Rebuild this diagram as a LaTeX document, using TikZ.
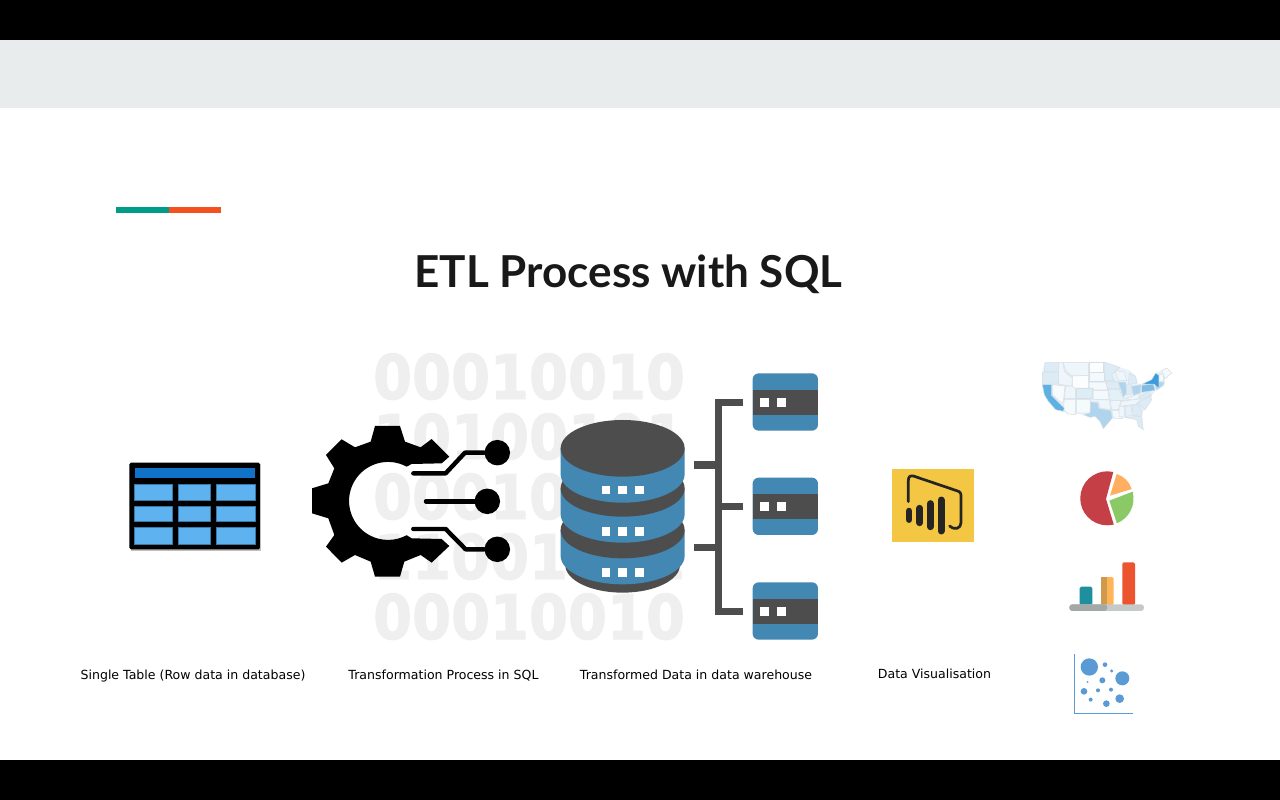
\documentclass[tikz,border=0pt]{standalone}
\usepackage{fontspec}
\setmainfont{DejaVu Sans}
\newfontfamily\titlefont{Lato}
\newfontfamily\digitfont[BoldFeatures={FakeBold=1.6}]{DejaVu Sans}
\definecolor{dbblue}{HTML}{4387B3}
\definecolor{dbdark}{HTML}{4D4D4D}
\definecolor{digitgray}{HTML}{EFEFEF}
\definecolor{bandgray}{HTML}{E9ECEC}
\definecolor{accteal}{HTML}{009C8A}
\definecolor{accorange}{HTML}{F4511E}
\definecolor{cellblue}{HTML}{5FB2F0}
\definecolor{celledge}{HTML}{3A78A8}
\definecolor{headblue}{HTML}{1173C8}
\definecolor{biyellow}{HTML}{F3C744}
\definecolor{biblack}{HTML}{252423}
\definecolor{scblue}{HTML}{5B9BD5}
\definecolor{stateedge}{HTML}{D6DFE4}
\definecolor{mapbase}{HTML}{E8F2F9}
\newcommand{\mapstate}[2]{\definecolor{statefill}{HTML}{#1}\path[state,fill=statefill] #2 -- cycle;}
\tikzset{
  caption/.style={inner sep=0pt,anchor=base,font=\fontsize{12.55}{15}\selectfont,text=black},
  digitrow/.style={inner sep=0pt,anchor=base,text=digitgray,font=\digitfont\fontsize{56}{56}\selectfont\bfseries},
  circuit/.style={draw=black,line width=4.4pt,line cap=round,line join=round},
  dot/.style={circle,fill=black,minimum size=25.5pt,inner sep=0pt},
  busline/.style={draw=dbdark,line width=7.2pt},
  cell/.style={fill=cellblue,draw=celledge,line width=.4pt},
  state/.style={draw=stateedge,line width=.5pt,line join=round},
  bubble/.style={fill=scblue},
  whitesq/.style={fill=white},
  bibar/.style={draw=biblack,line width=7pt,line cap=round},
}
\begin{document}
\begin{tikzpicture}[x=1pt,y=-1pt]
\useasboundingbox (0,0) rectangle (1280,800);
\fill[white] (0,0) rectangle (1280,800);
\fill[black] (0,0) rectangle (1280,40);
\fill[black] (0,760) rectangle (1280,800);
\fill[bandgray] (0,40) rectangle (1280,108);
\fill[accteal] (116,207) rectangle (169,213);
\fill[accorange] (169,207) rectangle (221,213);
\node[inner sep=0pt,anchor=base,text=black!90] (title) at (628.5,287) {\titlefont\fontsize{44}{48}\selectfont\bfseries ETL Process with SQL};

% background digits
\node[digitrow] (d1) at (529,399) {\scalebox{1}[1.1]{00010010}};
\node[digitrow] (d2) at (529,459) {\scalebox{1}[1.1]{10100101}};
\node[digitrow] (d3) at (529,519) {\scalebox{1}[1.1]{00010010}};
\node[digitrow] (d4) at (529,579) {\scalebox{1}[1.1]{11001101}};
\node[digitrow] (d5) at (529,639) {\scalebox{1}[1.1]{00010010}};

% table icon
\begin{scope}[shift={(120pt,-450pt)},x=.3333pt,y=-.3333pt]
  \fill[black!25] (34,42) rectangle (424,302);
  \fill[black,rounded corners=1.5pt] (28,38) rectangle (420,298);
  \fill[headblue] (44,53) rectangle (405,85);
  \foreach \ya/\yb in {102/150,168/215,233/282}{
    \foreach \xa/\xb in {44/158,176/272,290/405}{
      \path[cell] (\xa,\ya) rectangle (\xb,\yb);
    }
  }
\end{scope}

% gear icon
\begin{scope}[shift={(300pt,-340pt)},x=.3333pt,y=-.3333pt]
  \fill[black,line join=round] (225,258) -- (300,258) -- (315,305) -- (362,322) -- (395,297)
    -- (448,350) -- (425,370) -- (335,372) -- (320,380)
    arc[start angle=-61.5,end angle=-298.5,radius=117]
    -- (335,595) -- (425,597) -- (448,618) -- (395,668) -- (362,645) -- (313,665) -- (300,710)
    -- (225,710) -- (212,665) -- (165,645) -- (125,668) -- (78,620) -- (103,585) -- (85,535)
    -- (36,520) -- (36,445) -- (85,430) -- (103,385) -- (78,345) -- (125,298) -- (165,322)
    -- (212,305) -- cycle;
  \node[dot] (dota) at (592,338) {};
  \node[dot] (dotb) at (562,484) {};
  \node[dot] (dotc) at (592,628) {};
  \coordinate (ca) at (340,400);
  \coordinate (cb) at (378,484);
  \coordinate (cc) at (340,567);
  \path[circuit] (ca) -- (437,400) -- (495,338) -- (dota);
  \path[circuit] (cb) -- (dotb);
  \path[circuit] (cc) -- (437,567) -- (497,628) -- (dotc);

  % database
  \fill[dbdark] (968,675) ellipse[x radius=172,y radius=83];
  \foreach \t in {570,445,325}{
    \fill[dbblue] (782,\t) -- (782,\t+78) arc[start angle=180,end angle=0,x radius=186,y radius=85]
      -- (1154,\t) -- cycle;
    \fill[dbdark] (968,\t) ellipse[x radius=186,y radius=85];
  }
  \foreach \y in {450,574,698}{
    \foreach \x in {918,968,1018}{
      \fill[whitesq] (\x-13,\y-13) rectangle (\x+13,\y+13);
    }
  }
\end{scope}

% servers and bus
\begin{scope}[shift={(680pt,-365pt)},x=.3333pt,y=-.3333pt]
  \foreach \t/\n in {25/1,338/2,652/3}{
    \fill[dbblue,rounded corners=6pt] (218,\t) rectangle ++(196,172);
    \fill[dbdark] (218,\t+50) rectangle ++(196,74);
    \fill[whitesq] (241,\t+74) rectangle ++(26,26);
    \fill[whitesq] (292,\t+74) rectangle ++(26,26);
  }
  \coordinate (srv1) at (188,112);
  \coordinate (srv2) at (188,425);
  \coordinate (srv3) at (188,739);
  \coordinate (bus1) at (116,112);
  \coordinate (bus2) at (116,425);
  \coordinate (bus3) at (116,739);
  \coordinate (up) at (42,300);
  \coordinate (lo) at (42,548);
  \path[busline] (srv1) -- (bus1) -- (bus3) -- (srv3);
  \path[busline] (srv2) -- (bus2);
  \path[busline] (up) -- (116,300);
  \path[busline] (lo) -- (116,548);
\end{scope}

% Power BI icon
\begin{scope}[shift={(880pt,-460pt)},x=.3333pt,y=-.3333pt]
  \fill[biyellow] (35,28) rectangle (282,245);
  \path[bibar,line width=6.6pt] (87,153) -- (87,179);
  \path[bibar] (119,145) -- (119,188);
  \path[bibar] (151,131) -- (151,200);
  \path[bibar] (183,120) -- (183,213);
  \draw[biblack,line width=2.7pt,line cap=round,line join=round]
    (85,125) -- (85,62) .. controls (85,50) and (90,46) .. (100,48)
    -- (230,92) .. controls (240,95) and (243,98) .. (243,108)
    -- (243,188) .. controls (243,205) and (225,212) .. (209,198);
\end{scope}

% US map
\begin{scope}[shift={(1035pt,-358pt)},x=.3333pt,y=-.3333pt]
  \fill[mapbase] (22,42) -- (30,14) -- (205,14) -- (207,12) -- (255,28) -- (285,38) -- (302,55) -- (310,78)
    -- (322,78) -- (350,65) -- (362,45) -- (380,38) -- (395,30) -- (410,45) -- (390,62) -- (388,82)
    -- (365,96) -- (350,112) -- (350,125) -- (330,155) -- (322,160) -- (325,215) -- (310,205) -- (305,185)
    -- (270,178) -- (235,182) -- (232,180) -- (205,212) -- (195,190) -- (180,175) -- (165,178) -- (145,170)
    -- (125,167) -- (100,168) -- (85,160) -- (62,155) -- (40,130) -- (28,110) -- (22,80) -- cycle;
  \mapstate{DCEBF5}{(30,14) -- (72,14) -- (72,42) -- (28,40)}
  \mapstate{DDEBF5}{(22,42) -- (72,42) -- (68,78) -- (22,78)}
  \mapstate{F7FBFE}{(52,80) -- (90,84) -- (85,130) -- (80,135) -- (52,110)}
  \mapstate{EEF6FB}{(72,14) -- (84,14) -- (88,40) -- (112,60) -- (110,85) -- (70,78)}
  \mapstate{EEF6FB}{(84,14) -- (160,14) -- (160,52) -- (112,54) -- (95,42)}
  \mapstate{FBFDFE}{(112,54) -- (160,52) -- (160,90) -- (112,90)}
  \mapstate{EEF6FB}{(92,84) -- (110,84) -- (122,92) -- (122,122) -- (88,122)}
  \mapstate{DCEDF7}{(124,92) -- (172,92) -- (172,122) -- (124,122)}
  \mapstate{F5FAFD}{(88,124) -- (122,124) -- (122,170) -- (100,168) -- (85,155)}
  \mapstate{F5FAFD}{(124,124) -- (165,124) -- (165,165) -- (125,165)}
  \mapstate{FBFDFE}{(162,14) -- (205,14) -- (205,42) -- (162,42)}
  \mapstate{F3F9FC}{(162,44) -- (208,44) -- (208,70) -- (162,70)}
  \mapstate{F3F9FC}{(162,72) -- (212,72) -- (218,96) -- (174,96) -- (174,90) -- (162,90)}
  \mapstate{F3F9FC}{(174,98) -- (220,98) -- (222,124) -- (174,124)}
  \mapstate{EEF6FB}{(167,126) -- (224,126) -- (226,155) -- (195,150) -- (190,132) -- (167,132)}
  \mapstate{AFD5EE}{(167,132) -- (188,134) -- (192,152) -- (228,158) -- (232,180) -- (205,212) -- (195,190) -- (180,175) -- (165,178) -- (145,170) -- (165,165)}
  \mapstate{DCEBF5}{(207,12) -- (255,28) -- (230,50) -- (238,68) -- (210,68)}
  \mapstate{DCEBF5}{(212,70) -- (248,70) -- (255,92) -- (218,92)}
  \mapstate{E4F0F8}{(220,94) -- (252,94) -- (268,128) -- (226,126)}
  \mapstate{EEF6FB}{(226,128) -- (258,128) -- (250,155) -- (230,155)}
  \mapstate{F3F9FC}{(230,157) -- (250,157) -- (262,182) -- (235,180)}
  \mapstate{EEF6FB}{(240,38) -- (268,42) -- (275,68) -- (250,68)}
  \mapstate{AFD5EE}{(250,72) -- (272,72) -- (275,105) -- (265,118)}
  \mapstate{DCEBF5}{(282,45) -- (302,55) -- (305,75) -- (280,80) -- (282,55)}
  \mapstate{DCEBF5}{(275,78) -- (290,78) -- (290,108) -- (275,110)}
  \mapstate{AFD5EE}{(290,85) -- (318,80) -- (316,105) -- (295,112)}
  \mapstate{EEF6FB}{(270,122) -- (310,108) -- (318,115) -- (300,128)}
  \mapstate{EEF6FB}{(258,130) -- (320,122) -- (305,138) -- (255,145)}
  \mapstate{EEF6FB}{(252,145) -- (268,145) -- (268,178) -- (252,175)}
  \mapstate{E4F0F8}{(270,145) -- (288,143) -- (292,172) -- (272,175)}
  \mapstate{DCEBF5}{(290,142) -- (308,140) -- (322,160) -- (318,175) -- (295,172)}
  \mapstate{DCEBF5}{(270,178) -- (318,175) -- (325,215) -- (310,205) -- (305,185)}
  \mapstate{DCEBF5}{(305,135) -- (345,115) -- (350,125) -- (330,155)}
  \mapstate{DCEBF5}{(310,118) -- (340,100) -- (350,112) -- (320,122)}
  \mapstate{7EBDE6}{(320,82) -- (355,78) -- (360,97) -- (320,103)}
  \mapstate{AFD5EE}{(360,85) -- (372,72) -- (388,72) -- (385,82) -- (365,96)}
  \mapstate{F3F9FC}{(372,50) -- (385,48) -- (385,70) -- (372,70)}
  \mapstate{F3F9FC}{(380,38) -- (395,30) -- (410,45) -- (390,62)}
  \mapstate{5DB1E3}{(22,80) -- (50,80) -- (50,112) -- (88,150) -- (85,160) -- (62,155) -- (40,130) -- (28,110)}
  \mapstate{3C9BDC}{(322,78) -- (350,65) -- (362,45) -- (372,52) -- (372,92) -- (357,78)}
\end{scope}

% pie chart
\begin{scope}[shift={(1030pt,-350pt)},x=.3333pt,y=-.3333pt]
  \fill[fill={rgb,255:red,197;green,63;blue,70}] (228,447) -- (250,366)
    arc[start angle=-77,end angle=-284,radius=81] -- cycle;
  \fill[fill={rgb,255:red,139;green,201;blue,102}] (238,452) -- (308,425)
    arc[start angle=-15,end angle=68,radius=80] -- cycle;
  \fill[fill={rgb,255:red,255;green,175;blue,95}] (240,437) -- (260,372)
    arc[start angle=-73,end angle=-17,radius=68] -- cycle;
\end{scope}

% bar chart and scatter chart
\begin{scope}[shift={(1050pt,-550pt)},x=.3333pt,y=-.3333pt]
  \fill[fill={rgb,255:red,31;green,143;blue,158},rounded corners=1.5pt] (89,165) -- (89,110) -- (127,110) -- (127,165) -- cycle;
  \fill[fill={rgb,255:red,255;green,180;blue,87},rounded corners=1.5pt] (153,165) -- (153,81) -- (191,81) -- (191,165) -- cycle;
  \fill[fill={rgb,255:red,208;green,154;blue,78}] (154,165) -- (154,82) -- (172,82) -- (172,165) -- cycle;
  \fill[fill={rgb,255:red,236;green,84;blue,48},rounded corners=1.5pt] (217,165) -- (217,37) -- (255,37) -- (255,165) -- cycle;
  \fill[fill={rgb,255:red,197;green,201;blue,199},rounded corners=3pt] (58,163) rectangle (282,183);
  \fill[fill={rgb,255:red,164;green,168;blue,166},rounded corners=3pt] (58,163) -- (172,163) -- (172,183) -- (58,183) -- cycle;

  \draw[scblue,line width=1.6pt] (74,313) -- (74,490) -- (250,490);
  \foreach \x/\y/\r in {118/351/26,165/344/7,185/363/5,217/385/21,157/391/9,113/396/3,102/424/10,144/421/6,183/419/6,122/449/6,209/446/13,169/461/10}{
    \fill[bubble] (\x,\y) circle[radius=\r];
  }
\end{scope}

% captions
\node[caption] (c1) at (193,679) {Single Table (Row data in database)};
\node[caption] (c2) at (443.5,679) {Transformation Process in SQL};
\node[caption] (c3) at (696,679) {Transformed Data in data warehouse};
\node[caption] (c4) at (934.5,678) {Data Visualisation};
\end{tikzpicture}
\end{document}
